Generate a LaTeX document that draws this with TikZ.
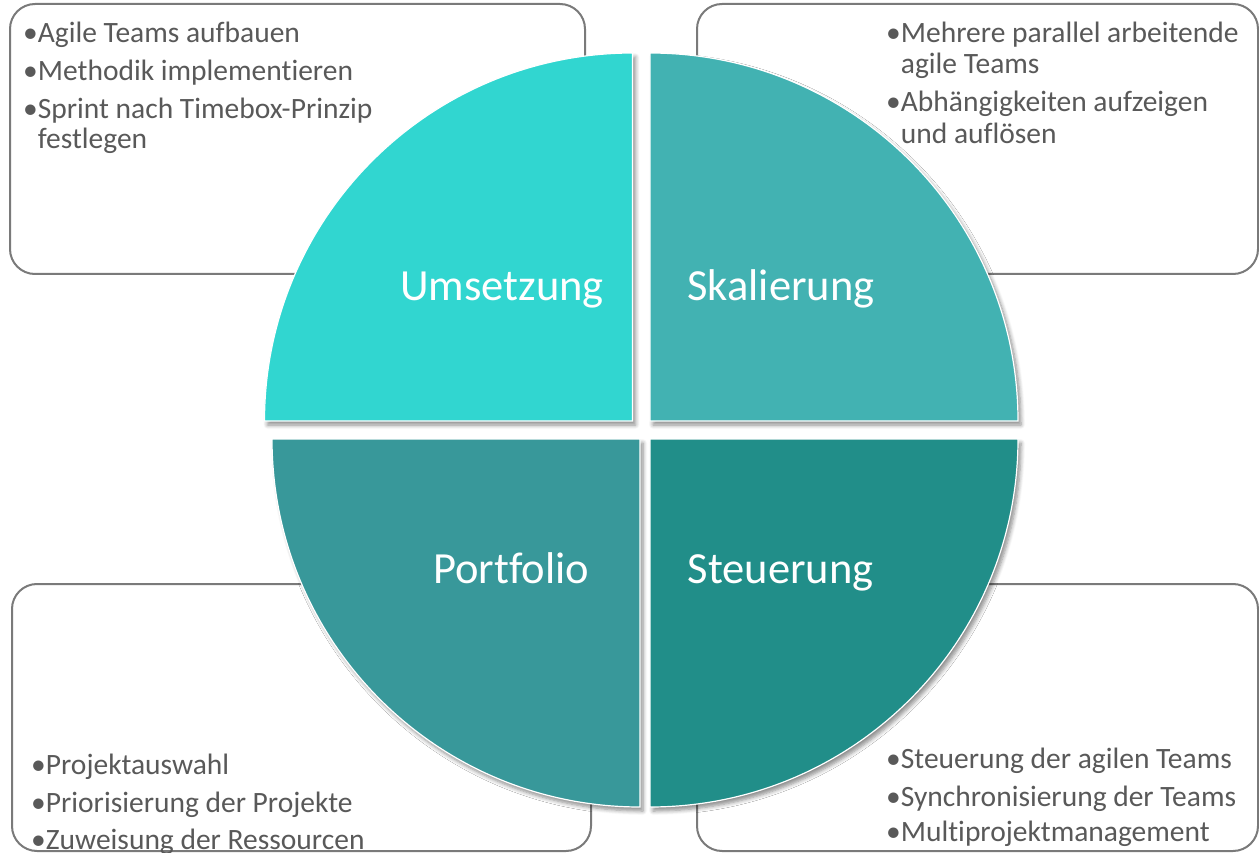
\documentclass[tikz,border=0pt]{standalone}
\usepackage{fontspec}
\setmainfont{Carlito}
\newfontfamily\itemfont[Ligatures=NoCommon]{Carlito}
\newfontfamily\labelfont[Ligatures=NoCommon]{Carlito}
\usetikzlibrary{shadows.blur}
\definecolor{qA}{HTML}{31D6D0}
\definecolor{qB}{HTML}{42B2B2}
\definecolor{qC}{HTML}{38989A}
\definecolor{qD}{HTML}{218E89}
\definecolor{boxgray}{HTML}{7A7A7A}
\definecolor{textgray}{HTML}{595959}
\newcommand{\bul}{•}
\newcommand{\ind}{\phantom{•}}
\tikzset{
  infobox/.style={draw=boxgray, line width=2pt, rounded corners=25pt, fill=white},
  quad/.style={draw=white, line width=1.2pt,
    blur shadow={shadow xshift=3pt, shadow yshift=-4pt, shadow blur steps=6,
                 shadow blur radius=4pt, shadow opacity=45}},
  qlabel/.style={text=white, font=\labelfont\fontsize{44.5}{48}\selectfont, anchor=base, inner sep=0pt},
  item/.style={text=textgray, font=\itemfont\fontsize{29.5}{32}\selectfont, anchor=base west, inner sep=0pt},
}
\begin{document}
\begin{tikzpicture}[x=1pt,y=-1pt]
\useasboundingbox (0,0) rectangle (1259,853);
\clip (0,0) rectangle (1259,853);
% info boxes
\draw[infobox] (10,4) rectangle (585,274);
\draw[infobox] (697,4) rectangle (1258,274);
\draw[infobox] (12,584) rectangle (591,851);
\draw[infobox] (697,584) rectangle (1258,851);
% quadrants
\path[quad, fill=qA] (632.5,421) -- (264.5,421) arc[start angle=180, end angle=270, radius=368] -- cycle;
\path[quad, fill=qB] (650,421) -- (650,53) arc[start angle=270, end angle=360, radius=368] -- cycle;
\path[quad, fill=qC] (640,439) -- (640,807) arc[start angle=90, end angle=180, radius=368] -- cycle;
\path[quad, fill=qD] (650,439) -- (1018,439) arc[start angle=0, end angle=90, radius=368] -- cycle;
% labels
\node[qlabel] (lu) at (502,301) {Umsetzung};
\node[qlabel] (ls) at (781,301) {Skalierung};
\node[qlabel] (lp) at (511,583) {Portfolio};
\node[qlabel] (lst) at (780.5,583) {Steuerung};
% texts top left
\node[item] (tl1) at (23,43) {\bul Agile Teams aufbauen};
\node[item] (tl2) at (23,80.5) {\bul Methodik implementieren};
\node[item] (tl3) at (23,118.5) {\bul Sprint nach Timebox-Prinzip};
\node[item] (tl4) at (23,149) {\ind festlegen};
% texts top right
\node[item] (tr1) at (886,43) {\bul Mehrere parallel arbeitende};
\node[item] (tr2) at (886,74) {\ind agile Teams};
\node[item] (tr3) at (886,112) {\bul Abhängigkeiten aufzeigen};
\node[item] (tr4) at (886,144) {\ind und auflösen};
% texts bottom left
\node[item] (bl1) at (31,774) {\bul Projektauswahl};
\node[item] (bl2) at (31,812) {\bul Priorisierung der Projekte};
\node[item] (bl3) at (31,849) {\bul Zuweisung der Ressourcen};
% texts bottom right
\node[item] (br1) at (886,768) {\bul Steuerung der agilen Teams};
\node[item] (br2) at (886,806) {\bul Synchronisierung der Teams};
\node[item] (br3) at (886,841) {\bul Multiprojektmanagement};
\end{tikzpicture}
\end{document}
